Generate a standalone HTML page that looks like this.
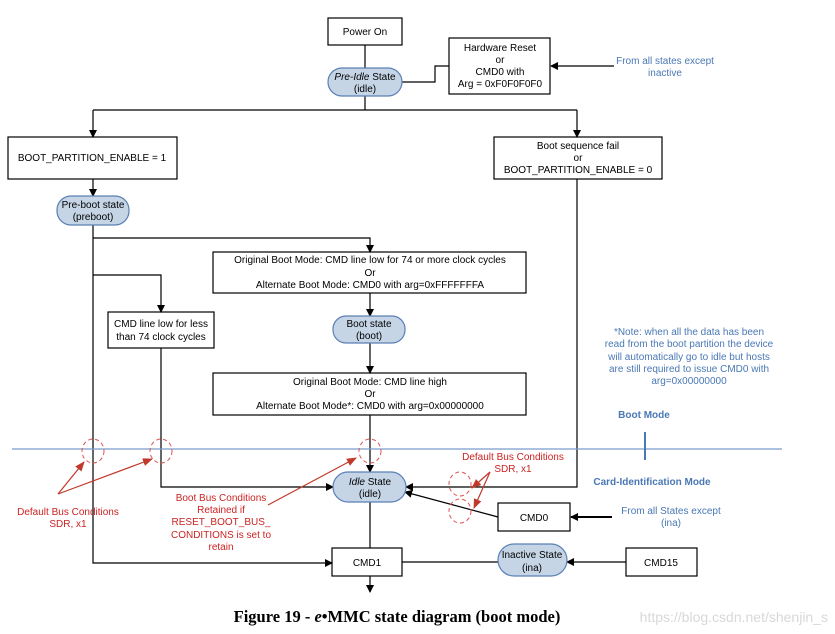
<!DOCTYPE html>
<html><head><style>
body{margin:0;background:#fff;}
svg{display:block;font-family:"Liberation Sans",Arial,sans-serif;}
</style></head><body>
<svg width="835" height="634" viewBox="0 0 835 634" xmlns="http://www.w3.org/2000/svg">
<defs>
<marker id="a" markerWidth="8" markerHeight="8" refX="7" refY="4" orient="auto" markerUnits="userSpaceOnUse"><path d="M0,0 L8,4 L0,8 z" fill="#000"/></marker>
<marker id="r" markerWidth="10" markerHeight="10" refX="9" refY="5" orient="auto" markerUnits="userSpaceOnUse"><path d="M0,1 L10,5 L0,9 z" fill="#c0392b"/></marker>
</defs>
<g fill="none" stroke="#000" stroke-width="1.2">
<rect x="328" y="18" width="74" height="27" fill="#fff"/>
<rect x="449" y="38" width="101" height="56" fill="#fff"/>
<rect x="8" y="137" width="169" height="42" fill="#fff"/>
<rect x="494" y="137" width="168" height="42" fill="#fff"/>
<rect x="213" y="252" width="313" height="41" fill="#fff"/>
<rect x="108" y="312" width="106" height="36" fill="#fff"/>
<rect x="213" y="373" width="313" height="42" fill="#fff"/>
<rect x="498" y="503" width="72" height="28" fill="#fff"/>
<rect x="332" y="548" width="70" height="28" fill="#fff"/>
<rect x="626" y="548" width="71" height="28" fill="#fff"/>
<path d="M365 45 V68"/>
<path d="M402 82 H435 V66 H449"/>
<path d="M614 66 H551" marker-end="url(#a)"/>
<path d="M365 96 V110"/>
<path d="M93 110 H577"/>
<path d="M93 110 V137" marker-end="url(#a)"/>
<path d="M577 110 V137" marker-end="url(#a)"/>
<path d="M93 179 V196" marker-end="url(#a)"/>
<path d="M93 225 V563 H332" marker-end="url(#a)"/>
<path d="M93 238 H370 V252" marker-end="url(#a)"/>
<path d="M93 275 H161 V312" marker-end="url(#a)"/>
<path d="M370 293 V316" marker-end="url(#a)"/>
<path d="M370 343 V373" marker-end="url(#a)"/>
<path d="M370 415 V472" marker-end="url(#a)"/>
<path d="M161 348 V487 H333" marker-end="url(#a)"/>
<path d="M577 179 V487 H406" marker-end="url(#a)"/>
<path d="M498 517 L405 492" marker-end="url(#a)"/>
<path d="M612 517 H571" marker-end="url(#a)" stroke-width="2"/>
<path d="M370 502 V548"/>
<path d="M370 576 V592" marker-end="url(#a)"/>
<path d="M402 562 H498"/>
<path d="M626 562 H567" marker-end="url(#a)"/>
</g>
<g fill="#c5d5e6" stroke="#5a7fb5" stroke-width="1.2">
<rect x="328" y="68" width="74" height="28" rx="14"/>
<rect x="57" y="196" width="72" height="29" rx="14"/>
<rect x="333" y="316" width="72" height="27" rx="13"/>
<rect x="333" y="472" width="73" height="30" rx="15"/>
<rect x="498" y="544" width="69" height="32" rx="16"/>
</g>
<path d="M12 449 H782" stroke="#7a9ccc" stroke-width="1.2"/>
<path d="M645 432 V460" stroke="#4a78b5" stroke-width="2"/>
<g fill="none" stroke="#d55" stroke-width="1" stroke-dasharray="4,3">
<ellipse cx="93" cy="451" rx="11" ry="12"/>
<ellipse cx="161" cy="451" rx="11" ry="12"/>
<ellipse cx="370" cy="451" rx="11" ry="12"/>
<ellipse cx="460" cy="484" rx="11" ry="12"/>
<ellipse cx="460" cy="511" rx="11" ry="12"/>
</g>
<g stroke="#c0392b" stroke-width="1.2" fill="none">
<path d="M58 494 L84 462" marker-end="url(#r)"/>
<path d="M58 494 L152 459" marker-end="url(#r)"/>
<path d="M268 505 L356 458" marker-end="url(#r)"/>
<path d="M490 472 L472 488" marker-end="url(#r)"/>
<path d="M490 472 L474 508" marker-end="url(#r)"/>
</g>
<g font-size="10" text-anchor="middle" fill="#000">
<text x="365" y="35">Power On</text>
<text x="365" y="80"><tspan font-style="italic">Pre-Idle</tspan> State</text>
<text x="365" y="92">(idle)</text>
<text x="500" y="51">Hardware Reset</text>
<text x="500" y="63">or</text>
<text x="500" y="75">CMD0 with</text>
<text x="500" y="87">Arg = 0xF0F0F0F0</text>
<text x="92" y="161">BOOT_PARTITION_ENABLE = 1</text>
<text x="578" y="149">Boot sequence fail</text>
<text x="578" y="161">or</text>
<text x="578" y="173">BOOT_PARTITION_ENABLE = 0</text>
<text x="93" y="208">Pre-boot state</text>
<text x="93" y="220">(preboot)</text>
<text x="370" y="263">Original Boot Mode: CMD line low for 74 or more clock cycles</text>
<text x="370" y="276">Or</text>
<text x="370" y="288">Alternate Boot Mode: CMD0 with arg=0xFFFFFFFA</text>
<text x="161" y="327">CMD line low for less</text>
<text x="161" y="340">than 74 clock cycles</text>
<text x="369" y="327">Boot state</text>
<text x="369" y="339">(boot)</text>
<text x="370" y="385">Original Boot Mode: CMD line high</text>
<text x="370" y="397">Or</text>
<text x="370" y="409">Alternate Boot Mode*: CMD0 with arg=0x00000000</text>
<text x="370" y="485"><tspan font-style="italic">Idle</tspan> State</text>
<text x="370" y="497">(idle)</text>
<text x="534" y="521">CMD0</text>
<text x="367" y="566">CMD1</text>
<text x="532" y="558">Inactive State</text>
<text x="532" y="571">(ina)</text>
<text x="661" y="566">CMD15</text>
</g>
<g font-size="10" text-anchor="middle" fill="#4a78b5">
<text x="665" y="64">From all states except</text>
<text x="665" y="76">inactive</text>
<text x="689" y="335">*Note: when all the data has been</text>
<text x="689" y="347">read from the boot partition the device</text>
<text x="689" y="360">will automatically go to idle but hosts</text>
<text x="689" y="372">are still required to issue CMD0 with</text>
<text x="689" y="384">arg=0x00000000</text>
<text x="671" y="514">From all States except</text>
<text x="671" y="526">(ina)</text>
<text x="644" y="418" font-weight="bold">Boot Mode</text>
<text x="652" y="485" font-weight="bold">Card-Identification Mode</text>
</g>
<g font-size="10" text-anchor="middle" fill="#cc2222">
<text x="68" y="515">Default Bus Conditions</text>
<text x="68" y="527">SDR, x1</text>
<text x="221" y="501">Boot Bus Conditions</text>
<text x="221" y="513">Retained if</text>
<text x="221" y="525">RESET_BOOT_BUS_</text>
<text x="221" y="538">CONDITIONS is set to</text>
<text x="221" y="550">retain</text>
<text x="513" y="460">Default Bus Conditions</text>
<text x="513" y="472">SDR, x1</text>
</g>
<text x="397" y="622" text-anchor="middle" font-family="Liberation Serif,serif" font-weight="bold" font-size="16.5">Figure 19 - <tspan font-style="italic">e</tspan>•MMC state diagram (boot mode)</text>
<text x="828" y="622" text-anchor="end" font-size="14" fill="#d8d8d8">https://blog.csdn.net/shenjin_s</text>
</svg>
</body></html>
